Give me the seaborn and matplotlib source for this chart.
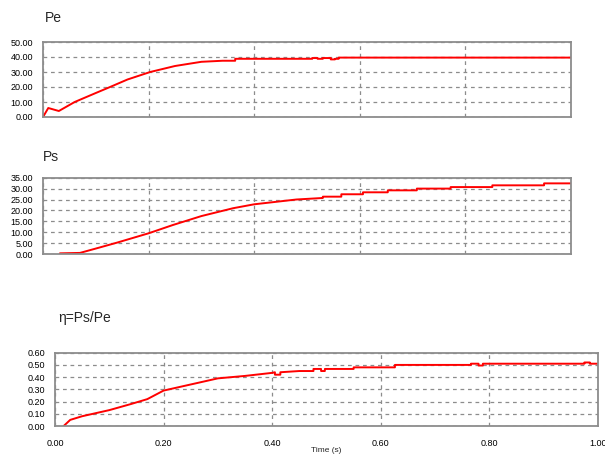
import numpy as np
import pandas as pd
import matplotlib
matplotlib.use("Agg")
import matplotlib.pyplot as plt
import seaborn as sns

# ─────────────────────────────────────────────
# DATOS
# ─────────────────────────────────────────────
t_pe = [0.000, 0.010, 0.020, 0.030, 0.040, 0.060, 0.100, 0.127, 0.160, 0.203,
        0.250, 0.300, 0.340, 0.364, 0.364, 0.500, 0.500, 0.510, 0.510, 0.520,
        0.520, 0.530, 0.530, 0.545, 0.545, 0.553, 0.553, 0.560, 0.560, 1.000]
pe = [0.0, 6.0, 5.0, 4.0, 6.0, 10.0, 16.0, 20.0, 25.0, 30.0,
      34.0, 36.8, 37.5, 37.5, 38.8, 38.8, 38.8, 38.8, 39.3, 39.3,
      38.8, 38.8, 39.3, 39.3, 38.4, 38.4, 38.8, 38.8, 39.6, 39.6]

t_ps = [0.032, 0.070, 0.100, 0.140, 0.200, 0.246, 0.300, 0.360, 0.400, 0.480,
        0.530, 0.530, 0.565, 0.565, 0.606, 0.606, 0.653, 0.653, 0.708, 0.708,
        0.772, 0.772, 0.851, 0.851, 0.949, 0.949, 1.000]
ps = [0.3, 0.5, 2.5, 5.2, 9.5, 13.3, 17.4, 21.0, 22.8, 25.0,
      25.7, 26.3, 26.3, 27.4, 27.4, 28.3, 28.3, 29.2, 29.2, 30.0,
      30.0, 30.7, 30.7, 31.5, 31.5, 32.4, 32.4]

t_eta = [0.016, 0.028, 0.050, 0.100, 0.140, 0.170, 0.200, 0.240, 0.280, 0.300,
         0.350, 0.400, 0.405, 0.405, 0.415, 0.415, 0.450, 0.476, 0.476, 0.490,
         0.490, 0.497, 0.497, 0.550, 0.550, 0.626, 0.626, 0.766, 0.766, 0.780,
         0.780, 0.788, 0.788, 0.975, 0.975, 0.985, 0.985, 1.000]
eta = [0.00, 0.05, 0.08, 0.13, 0.18, 0.22, 0.29, 0.33, 0.37, 0.39,
       0.41, 0.435, 0.44, 0.42, 0.42, 0.44, 0.45, 0.45, 0.467, 0.467,
       0.45, 0.45, 0.467, 0.467, 0.48, 0.48, 0.50, 0.50, 0.51, 0.51,
       0.495, 0.495, 0.51, 0.51, 0.52, 0.52, 0.51, 0.51]

x_ticks = [0.0, 0.2, 0.4, 0.6, 0.8, 1.0]
pe_ticks = [0, 10, 20, 30, 40, 50]
ps_ticks = [0, 5, 10, 15, 20, 25, 30, 35]
eta_ticks = [0.0, 0.1, 0.2, 0.3, 0.4, 0.5, 0.6]

ROJO = "#FF0000"
GRIS = "#8C8C8C"

sns.set_theme(style="white")
plt.rcParams["font.family"] = ["Liberation Sans", "DejaVu Sans"]

fig = plt.figure(figsize=(6.05, 4.59), dpi=100, facecolor="white")


def panel(pos, t, v, yticks, titulo, tpos, xlabels=False):
    ax = fig.add_axes(pos)
    df = pd.DataFrame({"t": t, "v": v})
    sns.lineplot(data=df, x="t", y="v", ax=ax, color=ROJO, linewidth=1.4,
                 estimator=None, sort=False)
    ax.set_xlim(0, 1)
    ax.set_ylim(yticks[0], yticks[-1])
    ax.set_xticks(x_ticks)
    ax.set_yticks(yticks)
    ax.set_yticklabels([f"{y:.2f}" for y in yticks])
    if xlabels:
        ax.set_xticklabels([f"{x:.2f}" for x in x_ticks])
        ax.set_xlabel("Time (s)", fontsize=6, labelpad=0)
    else:
        ax.set_xticklabels([])
        ax.set_xlabel("")
    ax.set_ylabel("")
    ax.grid(True, color=GRIS, linestyle=(0, (3, 3)), linewidth=0.9)
    ax.tick_params(axis="both", length=0, labelsize=6.5, colors="black")
    ax.tick_params(axis="y", pad=7)
    ax.tick_params(axis="x", pad=9)
    for s in ax.spines.values():
        s.set_color(GRIS)
        s.set_linewidth(1.3)
    fig.text(tpos[0], tpos[1], titulo, fontsize=10, va="center", ha="left")
    return ax


panel([43 / 605, 1 - 117 / 459, 528 / 605, 75 / 459], t_pe, pe, pe_ticks,
      "Pe", (45 / 605, 1 - 18 / 459))
panel([43 / 605, 1 - 254 / 459, 528 / 605, 76.3 / 459], t_ps, ps, ps_ticks,
      "Ps", (43 / 605, 1 - 157 / 459))
panel([55 / 605, 1 - 426 / 459, 543 / 605, 73.3 / 459], t_eta, eta, eta_ticks,
      "η=Ps/Pe", (58 / 605, 1 - 318 / 459), xlabels=True)

fig.savefig("out.png", dpi=100, facecolor="white")
